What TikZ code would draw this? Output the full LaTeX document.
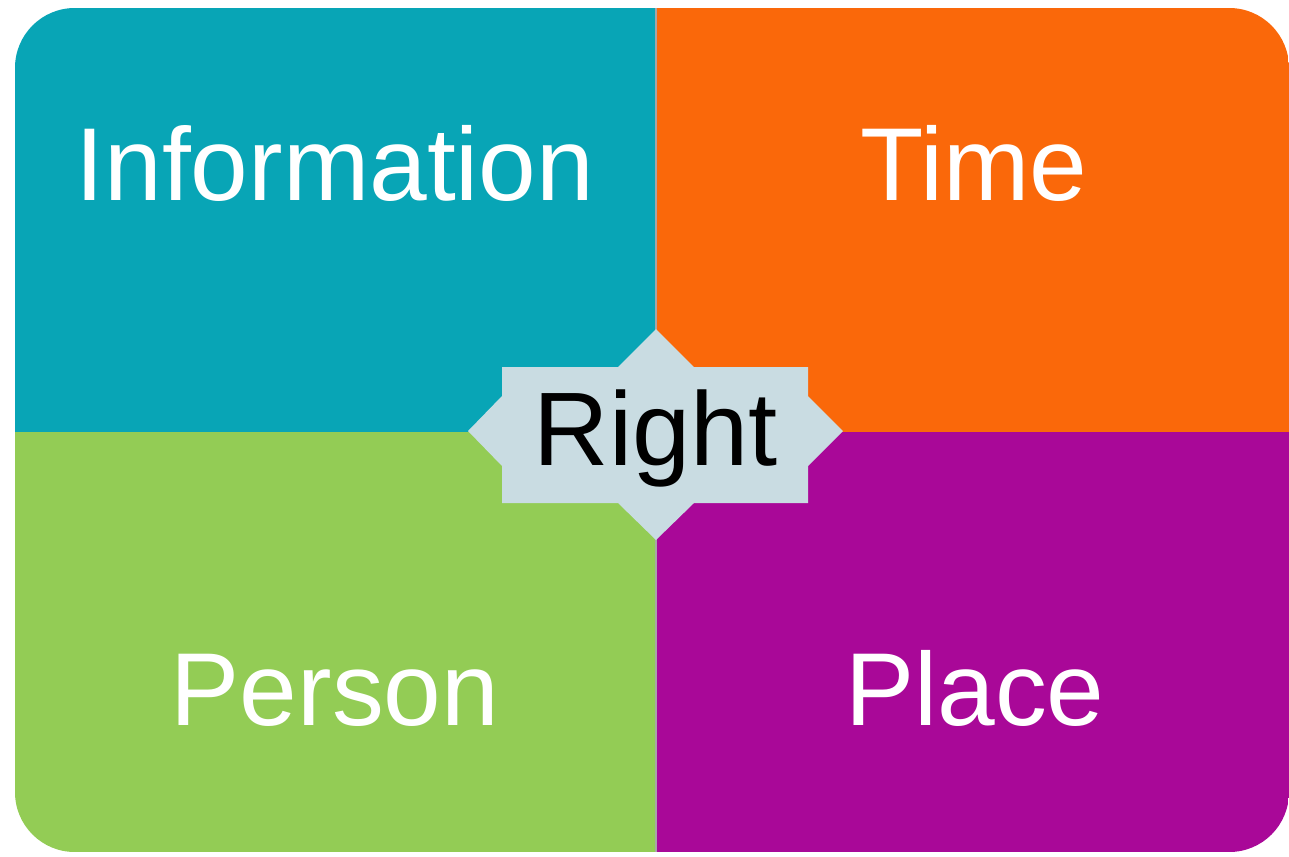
\documentclass[tikz,border=0pt]{standalone}
\usepackage{fontspec}
\setmainfont{Liberation Sans}
\usetikzlibrary{positioning,calc}
\definecolor{infoc}{HTML}{08A5B6}
\definecolor{timec}{HTML}{FA680A}
\definecolor{personc}{HTML}{93CC55}
\definecolor{placec}{HTML}{A90898}
\definecolor{rightc}{HTML}{C9DCE2}

\begin{document}
\begin{tikzpicture}
   [x=0.02cm,y=-0.02cm,
	label/.style={text=white,font=\fontsize{59}{60}\selectfont,anchor=base,inner sep=0pt},
	center/.style={text=black,font=\fontsize{59.5}{60}\selectfont,anchor=base,inner sep=0pt}]

\useasboundingbox (0,0) rectangle (1289,856);

% quadrants, outer corners rounded by the clip
\begin{scope}
\clip [rounded corners=34pt] (15,8) rectangle (1289,852);
\fill [infoc] (15,8) rectangle (656,432);
\fill [timec] (656,8) rectangle (1289,432);
\fill [personc] (15,432) rectangle (656,852);
\fill [placec] (656,432) rectangle (1289,852);
\draw [black!35,line width=0.6pt] (656,8) -- (656,852);
\end{scope}

% center shape
\fill [rightc] (502,367) -- (618,367) -- (656,329) -- (694,367) -- (808,367) -- (808,396)
	-- (843,431) -- (808,466) -- (808,503) -- (694,503) -- (656,540) -- (618,503)
	-- (502,503) -- (502,466) -- (468,431) -- (502,396) -- cycle;

\node [label] (info) at (335,200) {Information};
\node [label] (time) at (974,200) {Time};
\node [label] (person) at (335,725) {Person};
\node [label] (place) at (975,725) {Place};
\node [center] (right) at (656,465) {Right};
\end{tikzpicture}
\end{document}
